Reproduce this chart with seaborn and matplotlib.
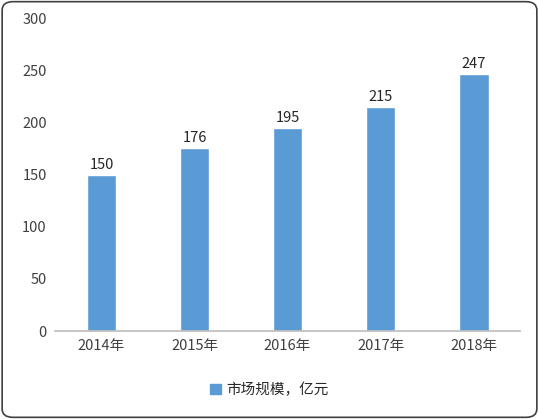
import matplotlib
matplotlib.use("Agg")
import matplotlib.pyplot as plt
import seaborn as sns
import pandas as pd
from matplotlib.patches import FancyBboxPatch, Patch

years = ["2014年", "2015年", "2016年", "2017年", "2018年"]
values = [150, 176, 195, 215, 247]
series_name = "市场规模，亿元"

sns.set_theme(style="white")
plt.rcParams['font.family'] = ['Noto Sans CJK SC', 'DejaVu Sans']

fig = plt.figure(figsize=(5.39, 4.19), dpi=100)
frame = FancyBboxPatch((0.004, 0.004), 0.992, 0.992, boxstyle="round,pad=0,rounding_size=0.02",
                       transform=fig.transFigure, fc="white", ec="#404040", lw=1.2, zorder=-10)
fig.patches.append(frame)
ax = fig.add_axes([0.102, 0.21, 0.863, 0.745])
ax.set_zorder(5)
df = pd.DataFrame({"year": years, "value": values})
sns.barplot(data=df, x="year", y="value", color="#5B9BD5", saturation=1, width=0.32, ax=ax)
ax.set_ylim(0, 300)
ax.set_yticks(range(0, 301, 50))
ax.set_xlabel("")
ax.set_ylabel("")
for s in ["top", "right", "left"]:
    ax.spines[s].set_visible(False)
ax.spines["bottom"].set_color("#BFBFBF")
ax.tick_params(axis="both", length=0, labelsize=10.5, colors="#404040", pad=6)
for i, v in enumerate(values):
    ax.text(i, v + 3, str(v), ha="center", va="bottom", fontsize=10.5, color="#262626")
ax.patch.set_alpha(0)
fig.legend(handles=[Patch(color="#5B9BD5", label=series_name)], loc="center", bbox_to_anchor=(0.5, 0.07),
           frameon=False, fontsize=10.5, handlelength=0.7, handleheight=0.7, handletextpad=0.4)
fig.savefig("out.png", dpi=100)
